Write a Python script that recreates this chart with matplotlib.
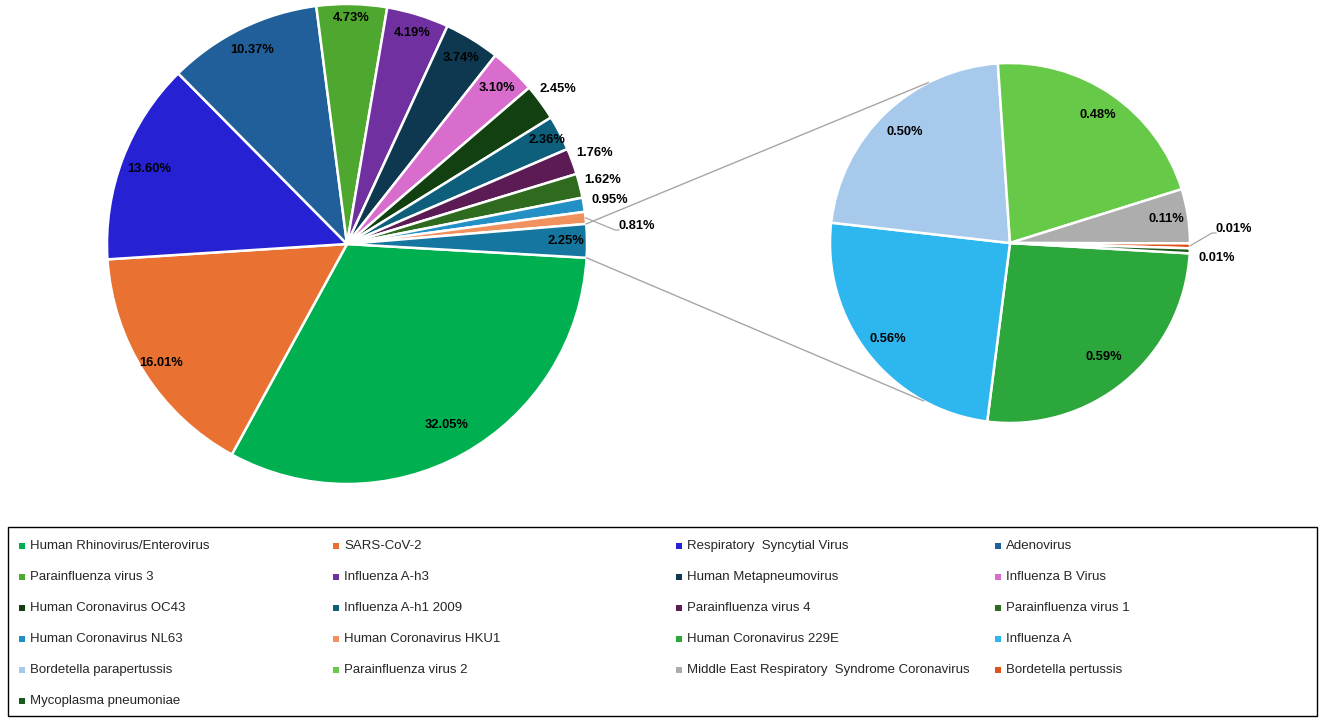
import numpy as np
import matplotlib.pyplot as plt

# main pie (clockwise from the right), last slice = "Other" that is split out
main_names = ['Human Rhinovirus/Enterovirus', 'SARS-CoV-2', 'Respiratory  Syncytial Virus',
              'Adenovirus', 'Parainfluenza virus 3', 'Influenza A-h3', 'Human Metapneumovirus',
              'Influenza B Virus', 'Human Coronavirus OC43', 'Influenza A-h1 2009',
              'Parainfluenza virus 4', 'Parainfluenza virus 1', 'Human Coronavirus NL63',
              'Human Coronavirus HKU1']
main_vals = [32.05, 16.01, 13.60, 10.37, 4.73, 4.19, 3.74, 3.10, 2.45, 2.36, 1.76, 1.62, 0.95, 0.81]
other_val = 2.25
main_colors = ['#00B050', '#E97132', '#2622D4', '#215F9A', '#4EA72E', '#7030A0', '#0E384F',
               '#D86DCD', '#124010', '#0E5F7C', '#5C1B54', '#2F6B1F', '#2290C5', '#F0915E']
other_color = '#15779F'

# secondary pie
sub_names = ['Human Coronavirus 229E', 'Influenza A', 'Bordetella parapertussis',
             'Parainfluenza virus 2', 'Middle East Respiratory  Syndrome Coronavirus',
             'Bordetella pertussis', 'Mycoplasma pneumoniae']
sub_vals = [0.59, 0.56, 0.50, 0.48, 0.11, 0.01, 0.01]
sub_colors = ['#2CA73B', '#2DB7EE', '#A6C9EC', '#66C947', '#ADADAD', '#E0521C', '#1A5A1A']

lab_font = ['Liberation Sans', 'DejaVu Sans']
leg_font = ['Liberation Sans', 'DejaVu Sans']

fig = plt.figure(figsize=(13.25, 7.22), dpi=100)
ax = fig.add_axes([0, 0, 1, 1])

c1, r1 = (347, 478), 240
c2, r2 = (1010, 479), 180
wp = dict(edgecolor='white', linewidth=1.8)

w1, _ = ax.pie(main_vals + [other_val], colors=main_colors + [other_color], startangle=-3.3,
               counterclock=False, center=c1, radius=r1, wedgeprops=wp)
w2, _ = ax.pie(sub_vals, colors=sub_colors, startangle=-3.3, counterclock=False,
               center=c2, radius=r2, wedgeprops=wp)


def pt(c, r, ang):
    a = np.deg2rad(ang)
    return c[0] + r * np.cos(a), c[1] + r * np.sin(a)


def put_labels(wedges, vals, c, r, dists, leaders, fixed):
    for i, (w, v) in enumerate(zip(wedges, vals)):
        mid = (w.theta1 + w.theta2) / 2
        txt = f'{v:.2f}%'
        if i in leaders:
            x, y = leaders[i]
            ex, ey = pt(c, r, mid)
            ax.plot([ex, x - 22, x - 18], [ey, y - 4, y - 4], color='#A6A6A6', lw=0.9)
        elif i in fixed:
            x, y = fixed[i]
        else:
            x, y = pt(c, r * dists[i], mid)
        ax.text(x, y, txt, ha='center', va='center', fontsize=9.3, fontweight='bold',
                family=lab_font)


main_d = [0.86, 0.92, 0.88, 0.9, 0.94, 0.92, 0.91, 0.9, 1.09, 0.94, 1.1, 1.1, 1.11, 1.2, 0.91]
put_labels(w1, main_vals + [other_val], c1, r1, main_d, {13: (637, 496)}, {})
sub_d = [0.82, 0.86, 0.85, 0.86, 0.88, 1.2, 1.15]
put_labels(w2, sub_vals, c2, r2, sub_d, {5: (1234, 493)}, {6: (1217, 464)})

# connector lines between the "Other" wedge and the secondary pie
ow = w1[-1]
for a1, a2 in [(ow.theta2, 117), (ow.theta1, -118.7)]:
    x1, y1 = pt(c1, r1, a1)
    x2, y2 = pt(c2, r2, a2)
    ax.plot([x1, x2], [y1, y2], color='#A6A6A6', lw=1.0)

# legend box, entries laid out row by row
leg_names = main_names + sub_names
leg_colors = main_colors + sub_colors
ax.add_patch(plt.Rectangle((8, 6), 1309, 189, fill=False, edgecolor='black', lw=1.0))
col_x = [22, 336, 679, 998]
for i, (n, col) in enumerate(zip(leg_names, leg_colors)):
    x = col_x[i % 4]
    y = 176 - 31 * (i // 4)
    ax.scatter([x], [y], marker='s', s=22, color=col, linewidths=0)
    ax.text(x + 8, y, n, ha='left', va='center', fontsize=9.5, family=leg_font, color='#262626')

ax.set_xlim(0, 1325)
ax.set_ylim(0, 722)
ax.set_aspect('equal')
ax.axis('off')

fig.savefig('out.png', dpi=100)
